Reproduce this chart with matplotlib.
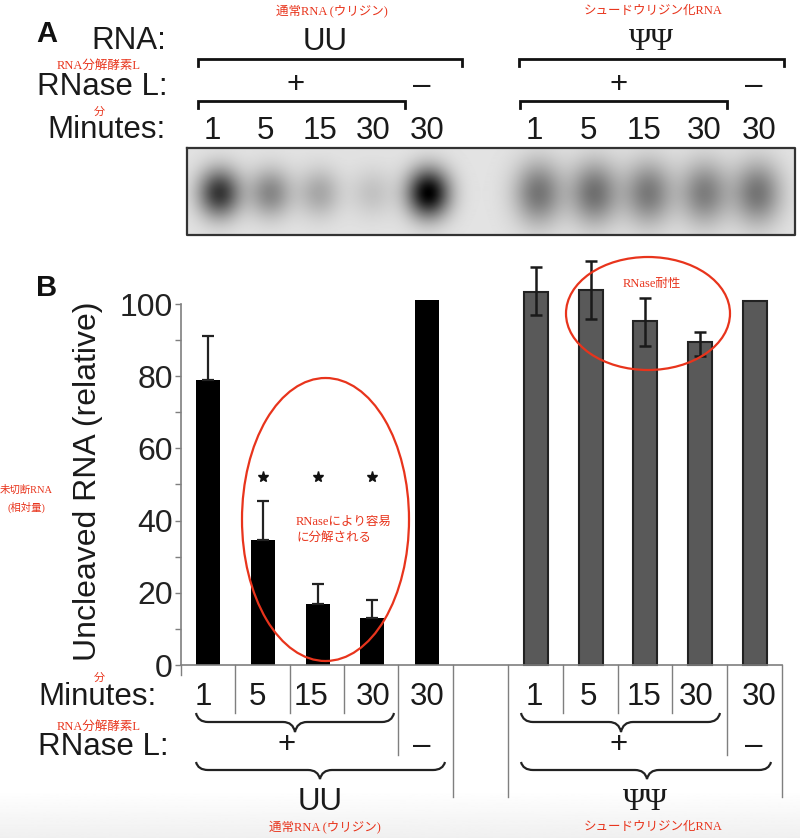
import numpy as np
import matplotlib
matplotlib.use("Agg")
import matplotlib.pyplot as plt
from matplotlib.patches import Ellipse, PathPatch
from matplotlib.path import Path

# bar chart values
minutes = ["1", "5", "15", "30", "30"]
uu_values = [79, 34.5, 17, 13, 101]
uu_err_top = [91, 45.5, 22.5, 18]
psi_values = [103.4, 104, 95.4, 89.4, 100.8]
psi_err_top = [110.3, 111.8, 101.8, 92.3]
psi_err_low = [97, 95.8, 88.4, 85.7]
star_values = [52, 52, 52]

# gel band darkness read from the blot
uu_band_x = [219, 270, 319, 372, 428]
uu_band_dark = [0.76, 0.40, 0.26, 0.14, 1.0]
psi_band_x = [538, 594, 648, 704, 757]
psi_band_dark = [0.48, 0.50, 0.46, 0.44, 0.48]

sans = ["Liberation Sans", "DejaVu Sans"]
serif = ["Liberation Serif", "DejaVu Serif"]
red_font = ["Liberation Serif", "Noto Sans CJK JP", "DejaVu Sans"]
red = "#e8341c"
gray = "#7f7f7f"

fig = plt.figure(figsize=(8, 8.38), dpi=100)

# overlay in pixel coords for all the labels
over = fig.add_axes([0, 0, 1, 1], zorder=3)
over.set_xlim(0, 800)
over.set_ylim(838, 0)
over.axis("off")
over.patch.set_alpha(0)

# faint grey fade along the bottom edge
bg = fig.add_axes([0, 0, 1, 1], zorder=0)
bg.imshow(np.linspace(1, 0.94, 50)[:, None], extent=[0, 800, 838, 790], cmap="gray",
          vmin=0, vmax=1, aspect="auto")
bg.set_xlim(0, 800)
bg.set_ylim(838, 0)
bg.axis("off")

# bar panel
ax = fig.add_axes([181 / 800, 1 - 665 / 838, 601 / 800, 361 / 838], zorder=2)
ax.patch.set_alpha(0)
uu_x = np.arange(5)
psi_x = np.arange(6, 11)
ax.bar(uu_x, uu_values, width=0.44, color="black", clip_on=False)
ax.bar(psi_x, psi_values, width=0.44, color="#595959", edgecolor="#222222", linewidth=1.5, clip_on=False)
uu_up = np.array(uu_err_top) - np.array(uu_values[:4])
ax.errorbar(uu_x[:4], uu_values[:4], yerr=[np.zeros(4), uu_up], fmt="none", ecolor="#222222",
            elinewidth=1.6, capsize=4, capthick=1.6, clip_on=False)
psi_up = np.array(psi_err_top) - np.array(psi_values[:4])
psi_low = np.array(psi_values[:4]) - np.array(psi_err_low)
ax.errorbar(psi_x[:4], psi_values[:4], yerr=[psi_low, psi_up], fmt="none", ecolor="#1a1a1a",
            elinewidth=1.8, capsize=4, capthick=1.8, clip_on=False)
ax.plot(uu_x[1:4], star_values, "*", color="#111111", markersize=8, clip_on=False)
ax.set_xlim(-0.5, 10.5)
ax.set_ylim(0, 100)
ax.set_yticks(range(0, 101, 20))
ax.set_yticks(range(10, 100, 20), minor=True)
ax.tick_params(axis="y", which="both", length=4, color=gray, width=1, pad=2)
ax.set_xticks([])
for lab in ax.get_yticklabels():
    lab.set_family(sans)
    lab.set_fontsize(23)
    lab.set_color("#222222")
for s in ["top", "right"]:
    ax.spines[s].set_visible(False)
for s in ["left", "bottom"]:
    ax.spines[s].set_color(gray)
    ax.spines[s].set_linewidth(1.2)

# gel image
gel_w, gel_h = 608, 87
xx, yy = np.meshgrid(np.arange(187, 187 + gel_w), np.arange(148, 148 + gel_h))
dark = np.zeros(xx.shape)
for bx, d in zip(uu_band_x, uu_band_dark):
    dark += d * np.exp(-((xx - bx) / 15.0) ** 2 / 2 - ((yy - 193) / 17.0) ** 2 / 2)
for bx, d in zip(psi_band_x, psi_band_dark):
    dark += d * np.exp(-((xx - bx) / 17.0) ** 2 / 2 - ((yy - 193) / 22.0) ** 2 / 2)
gel = np.clip(0.89 - 0.89 * dark, 0, 1)
over.imshow(gel, extent=[187, 187 + gel_w, 235, 148], cmap="gray", vmin=0, vmax=1, aspect="auto")
over.plot([187, 795, 795, 187, 187], [148, 148, 235, 235, 148], color="#333333", lw=1.6)
over.set_xlim(0, 800)
over.set_ylim(838, 0)


def label(x, y, s, size=22.5, ha="center", **kw):
    over.text(x, y + 2, s, fontsize=size, ha=ha, va="center", family=sans, color="#1a1a1a", **kw)


def psi_label(x, y, s):
    over.text(x, y + 2, s, fontsize=22, ha="center", va="center", family=serif, color="#1a1a1a")


def red_label(x, y, s, size=9, ha="center"):
    over.text(x, y, s, fontsize=size, ha=ha, va="center", family=red_font, color=red)


def bracket(x0, x1, y0, y1):
    over.plot([x0, x0, x1, x1], [y1, y0, y0, y1], color="#111111", lw=2, solid_joinstyle="miter")


def brace(x0, x1, xm, top, mid, tip):
    c = 12
    verts = [(x0, top), (x0 + 2, mid), (x0 + c, mid),
             (xm - c, mid), (xm - 2, mid), (xm, tip),
             (xm + 2, mid), (xm + c, mid),
             (x1 - c, mid), (x1 - 2, mid), (x1, top)]
    codes = [Path.MOVETO, Path.CURVE3, Path.CURVE3,
             Path.LINETO, Path.CURVE3, Path.CURVE3,
             Path.CURVE3, Path.CURVE3,
             Path.LINETO, Path.CURVE3, Path.CURVE3]
    over.add_patch(PathPatch(Path(verts, codes), fill=False, edgecolor="#222222", lw=1.6))


# panel A
over.text(36, 34, "A", fontsize=21, fontweight="bold", family=sans, va="center", color="#111111")
label(166, 39, "RNA:", ha="right")
label(168, 85, "RNase L:", ha="right")
label(166, 128, "Minutes:", ha="right")
label(325, 40, "UU")
psi_label(651, 40, "ΨΨ")
bracket(198, 462, 59, 66)
bracket(519, 784, 59, 66)
bracket(198, 405, 101, 108)
bracket(520, 727, 101, 108)
label(296, 83, "+", ha="center")
label(619, 83, "+", ha="center")
label(422, 84, "–")
label(754, 84, "–")
for x, m in zip([212, 265, 320, 373, 427], minutes):
    label(x, 129, m)
for x, m in zip([534, 588, 644, 704, 759], minutes):
    label(x, 129, m)

# panel B
over.text(36, 288, "B", fontsize=21, fontweight="bold", family=sans, va="center", color="#111111")
over.text(88, 481, "Uncleaved RNA (relative)", fontsize=23, rotation=90, ha="center", va="center",
          family=sans, color="#1a1a1a")
label(38, 695, "Minutes:", ha="left")
label(38, 745, "RNase L:", ha="left")
for x, m in zip([203, 257, 311, 373, 427], minutes):
    label(x, 695, m)
for x, m in zip([534, 588, 644, 696, 759], minutes):
    label(x, 695, m)
for x in [235, 290, 344, 563, 618, 672]:
    over.plot([x, x], [665, 713], color=gray, lw=1)
for x in [398, 727]:
    over.plot([x, x], [665, 755], color=gray, lw=1)
for x in [453, 508, 782]:
    over.plot([x, x], [665, 797], color=gray, lw=1)
over.plot([181, 181], [665, 675], color=gray, lw=1)
brace(196, 394, 295, 713, 722, 732)
brace(196, 445, 320, 762, 770, 779)
brace(521, 720, 621, 713, 722, 732)
brace(521, 771, 647, 762, 770, 779)
label(287, 743, "+")
label(422, 744, "–")
label(619, 743, "+")
label(754, 744, "–")
label(320, 800, "UU")
psi_label(645, 800, "ΨΨ")

# red annotations
over.add_patch(Ellipse((325.5, 519.5), 167, 283, fill=False, edgecolor=red, lw=1.6))
over.add_patch(Ellipse((648, 313.5), 164, 113, fill=False, edgecolor=red, lw=1.6))
red_label(332, 11, "通常RNA (ウリジン)")
red_label(653, 11, "シュードウリジン化RNA")
red_label(99, 66, "RNA分解酵素L")
red_label(99, 112, "分", size=8)
red_label(99, 678, "分", size=8)
red_label(99, 727, "RNA分解酵素L")
red_label(26, 490, "未切断RNA", size=7.5)
red_label(26, 507, "(相対量)", size=7.5)
red_label(296, 522, "RNaseにより容易", ha="left")
red_label(296, 538, "に分解される", ha="left")
red_label(652, 284, "RNase耐性")
red_label(325, 827, "通常RNA (ウリジン)")
red_label(653, 827, "シュードウリジン化RNA")

fig.savefig("out.png", dpi=100)
